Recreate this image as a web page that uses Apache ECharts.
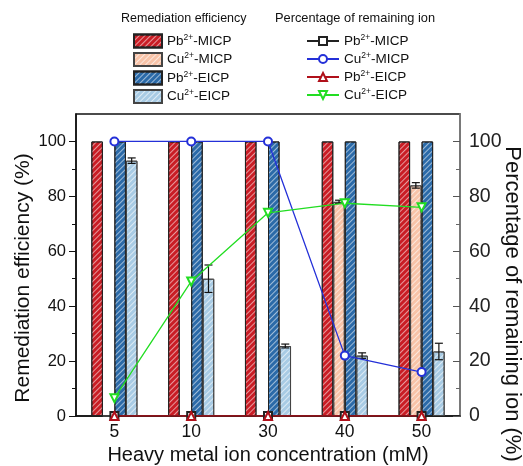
<!DOCTYPE html>
<html>
<head>
<meta charset="utf-8">
<script src="https://cdn.jsdelivr.net/npm/echarts@6/dist/echarts.min.js"></script>
<style>
  html, body { margin: 0; padding: 0; background: #fff; }
  #chart { width: 523px; height: 466px; }
</style>
</head>
<body>
<div id="chart"></div>
<script>
// 数据
var categories = ['5', '10', '30', '40', '50'];

// Remediation efficiency (bars, %)
var pbMicpEff = [100, 100, 100, 100, 100];
var cuMicpEff = [0, 0, 0, 78, 84];
var pbEicpEff = [100, 100, 100, 100, 100];
var cuEicpEff = [93, 50, 25.5, 22, 23.5];
var cuMicpErr = [0, 0, 0, 0.6, 1];
var cuEicpErr = [1, 5, 0.7, 1, 3];

// Percentage of remaining ion (lines, %)
var pbMicpRem = [0, 0, 0, 0, 0];
var cuMicpRem = [100, 100, 100, 22, 16];
var pbEicpRem = [0, 0, 0, 0, 0];
var cuEicpRem = [6.5, 49, 74, 77.5, 76];

var majorTicks = [0, 20, 40, 60, 80, 100];
var minorTicks = [10, 30, 50, 70, 90];

var FONT = 'Liberation Sans, Arial, sans-serif';

function hatch(col) {
  return {
    symbol: 'rect',
    symbolSize: 1,
    color: col,
    dashArrayX: [1, 0],
    dashArrayY: [1, 2.2],
    rotation: -Math.PI / 4
  };
}

function barSeries(name, data, color, decalColor, border) {
  return {
    name: name + '|eff',
    type: 'bar',
    data: data,
    barGap: '0%',
    barCategoryGap: '40%',
    itemStyle: {
      color: color,
      borderColor: border,
      borderWidth: 1,
      decal: hatch(decalColor)
    }
  };
}

function lineSeries(name, data, color, symbol, rotate) {
  return {
    name: name + '|rem',
    type: 'line',
    yAxisIndex: 1,
    data: data,
    symbol: symbol,
    symbolSize: 8,
    symbolRotate: rotate || 0,
    z: 5,
    lineStyle: { color: color, width: 1.3 },
    itemStyle: { color: color, borderColor: color, borderWidth: 1.3 }
  };
}

// 误差线: [类别序号, 值, 误差, 柱子位置]
function errData(vals, errs, slot) {
  var out = [];
  vals.forEach(function (v, i) {
    if (errs[i] > 0) out.push([i, v, errs[i], slot]);
  });
  return out;
}

function legendFmt(name) {
  var base = name.split('|')[0];
  var m = base.match(/^([A-Za-z]+)(\d\+)(.*)$/);
  return '{n|' + m[1] + '}{s|' + m[2] + '}{n|' + m[3] + '}';
}

var legendText = {
  fontFamily: FONT,
  rich: {
    n: { fontSize: 13.5, fontFamily: FONT, color: '#111', lineHeight: 16 },
    s: { fontSize: 8.5, fontFamily: FONT, color: '#111', verticalAlign: 'top', lineHeight: 16 }
  }
};

// 副刻度用的隐藏轴
function minorAxis(pos, inside) {
  return {
    type: 'value', min: 0, max: 110, position: pos,
    axisLine: { show: false },
    axisTick: { show: true, inside: inside, customValues: minorTicks, length: 4, lineStyle: { color: pos === 'left' ? '#111' : '#666' } },
    axisLabel: { show: false },
    splitLine: { show: false }
  };
}

var myChart = echarts.init(document.getElementById('chart'));
var option = {
  animation: false,
  textStyle: { fontFamily: FONT },
  graphic: [
    { type: 'text', left: 121, top: 12, style: { text: 'Remediation efficiency', fontSize: 12.5, fontFamily: FONT, fill: '#111' } },
    { type: 'text', left: 275, top: 12, style: { text: 'Percentage of remaining ion', fontSize: 12.8, fontFamily: FONT, fill: '#111' } },
    {
      type: 'text', x: 23, y: 278, rotation: Math.PI / 2,
      style: { text: 'Remediation efficiency (%)', fontSize: 21, fontFamily: FONT, fill: '#111', align: 'center', verticalAlign: 'middle' }
    },
    {
      type: 'text', x: 512, y: 304, rotation: -Math.PI / 2,
      style: { text: 'Percentage of remaining ion (%)', fontSize: 22, fontFamily: FONT, fill: '#111', align: 'center', verticalAlign: 'middle' }
    }
  ],
  legend: [
    {
      left: 133, top: 33, orient: 'vertical', icon: 'rect',
      itemWidth: 28, itemHeight: 13, itemGap: 3, padding: 0,
      data: ['Pb2+-MICP|eff', 'Cu2+-MICP|eff', 'Pb2+-EICP|eff', 'Cu2+-EICP|eff'],
      formatter: legendFmt, textStyle: legendText
    },
    {
      left: 306, top: 33, orient: 'vertical',
      itemWidth: 32, itemHeight: 10, itemGap: 3, padding: 0,
      data: ['Pb2+-MICP|rem', 'Cu2+-MICP|rem', 'Pb2+-EICP|rem', 'Cu2+-EICP|rem'],
      formatter: legendFmt, textStyle: legendText
    }
  ],
  grid: {
    left: 76, right: 63, top: 114, bottom: 50,
    outerBoundsMode: 'none',
    show: true, borderColor: '#111', borderWidth: 1.5
  },
  xAxis: {
    type: 'category',
    data: categories,
    name: 'Heavy metal ion concentration (mM)',
    nameLocation: 'middle',
    nameGap: 29,
    nameTextStyle: { fontSize: 20, color: '#111', fontFamily: FONT },
    axisLine: { lineStyle: { color: '#111', width: 1.5 } },
    axisTick: { show: false },
    axisLabel: { fontSize: 17.5, color: '#111', margin: 7 }
  },
  yAxis: [
    {
      type: 'value', min: 0, max: 110, interval: 10,
      axisLine: { show: true, lineStyle: { color: '#111', width: 1.5 } },
      axisTick: { show: true, customValues: majorTicks, length: 7, lineStyle: { color: '#111' } },
      axisLabel: { customValues: majorTicks, fontSize: 16.5, color: '#111', margin: 10 },
      splitLine: { show: false }
    },
    {
      type: 'value', min: 0, max: 110, interval: 10, position: 'right',
      axisLine: { show: true, lineStyle: { color: '#888', width: 1.5 } },
      axisTick: { show: true, inside: true, customValues: majorTicks, length: 7, lineStyle: { color: '#555' } },
      axisLabel: { customValues: majorTicks, fontSize: 19.5, color: '#222', margin: 9 },
      splitLine: { show: false }
    },
    minorAxis('left', false),
    minorAxis('right', true)
  ],
  series: [
    barSeries('Pb2+-MICP', pbMicpEff, '#c91d25', 'rgba(255,255,255,0.55)', '#222'),
    barSeries('Cu2+-MICP', cuMicpEff, '#f8c3a8', 'rgba(255,255,255,0.6)', '#444'),
    barSeries('Pb2+-EICP', pbEicpEff, '#2b6aa8', 'rgba(255,255,255,0.55)', '#222'),
    barSeries('Cu2+-EICP', cuEicpEff, '#a8cbe4', 'rgba(255,255,255,0.6)', '#444'),
    {
      type: 'custom',
      name: 'err',
      z: 4,
      data: errData(cuMicpEff, cuMicpErr, 1).concat(errData(cuEicpEff, cuEicpErr, 3)),
      renderItem: function (params, api) {
        var cat = api.value(0), v = api.value(1), e = api.value(2), slot = api.value(3);
        var band = api.size([1, 0])[0];
        var x = api.coord([cat, v])[0] + (slot - 1.5) * band * 0.15;
        var yTop = api.coord([cat, v + e])[1];
        var yBot = api.coord([cat, v - e])[1];
        var cap = 4;
        var st = { stroke: '#111', lineWidth: 1.2 };
        return {
          type: 'group',
          children: [
            { type: 'line', shape: { x1: x, y1: yTop, x2: x, y2: yBot }, style: st },
            { type: 'line', shape: { x1: x - cap, y1: yTop, x2: x + cap, y2: yTop }, style: st },
            { type: 'line', shape: { x1: x - cap, y1: yBot, x2: x + cap, y2: yBot }, style: st }
          ]
        };
      }
    },
    lineSeries('Pb2+-MICP', pbMicpRem, '#222', 'emptyRect'),
    lineSeries('Cu2+-MICP', cuMicpRem, '#2430d8', 'emptyCircle'),
    lineSeries('Pb2+-EICP', pbEicpRem, '#b0101a', 'emptyTriangle'),
    lineSeries('Cu2+-EICP', cuEicpRem, '#22dd22', 'emptyTriangle', 180)
  ]
};
myChart.setOption(option);
</script>
</body>
</html>
